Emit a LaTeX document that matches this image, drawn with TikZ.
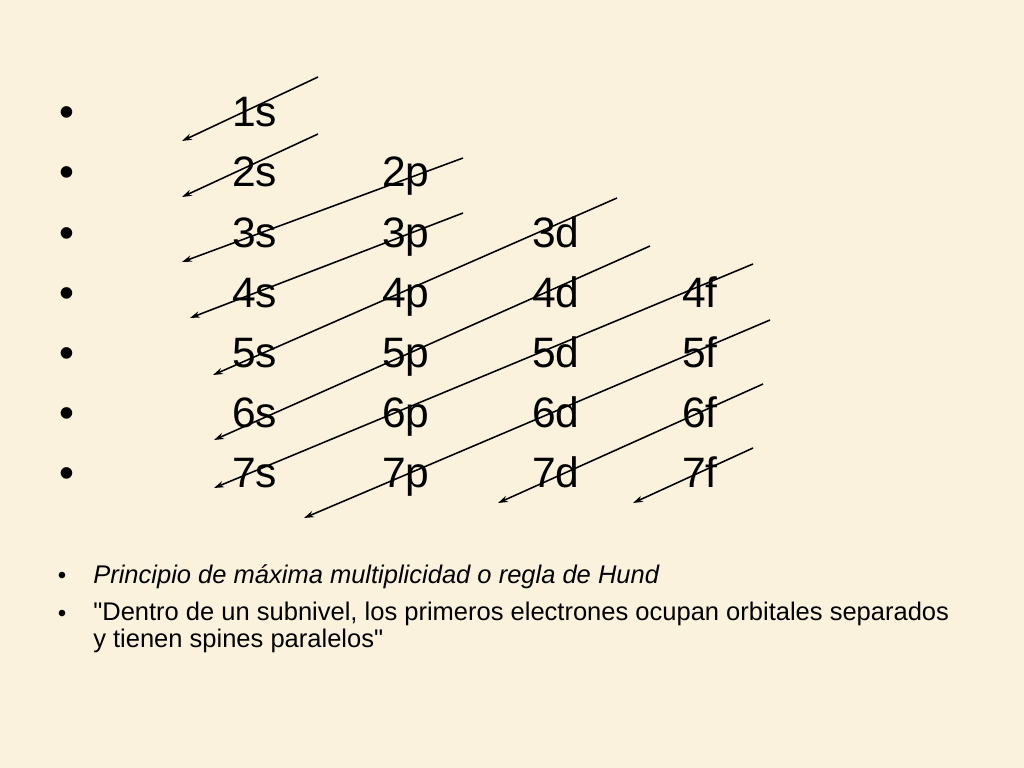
\documentclass[tikz,border=0pt]{standalone}
\usepackage{fontspec}
\setmainfont{Liberation Sans}
\usepackage{xcolor}
\usetikzlibrary{arrows.meta, positioning, calc}

\definecolor{parchment}{RGB}{250,242,221}

\begin{document}
\begin{tikzpicture}[
    x=0.0248cm, y=-0.0248cm,
    % styles
    orbital/.style={
        anchor=base west, inner sep=0pt, font=\fontsize{30}{36}\selectfont
    },
    big_bullet/.style={
        anchor=base, inner sep=0pt, font=\fontsize{30}{36}\selectfont
    },
    small_bullet/.style={
        anchor=base, inner sep=0pt, font=\fontsize{17}{20}\selectfont
    },
    note_text/.style={
        anchor=base west, inner sep=0pt, align=left, font=\fontsize{18}{18.4}\selectfont
    },
    diag_arrow/.style={
        -{Stealth[length=7pt, width=4.5pt]}, line width=1.1pt, black
    }
]

    % --- BACKGROUND ---
    \fill[parchment] (0,0) rectangle (1024,768);
    \useasboundingbox (0,0) rectangle (1024,768);

    % --- ORBITAL TABLE ---
    \foreach \n in {1,...,7} {
        \node[big_bullet] (bul\n) at (67, {67+60*\n}) {•};
        \foreach \l [count=\c from 0] in {s,p,d,f} {
            \pgfmathtruncatemacro\shown{\n>\c}
            \ifnum\shown=1
                \node[orbital] (o\n\l) at ({232+150*\c}, {67+60*\n}) {\n\l};
            \fi
        }
    }

    % --- DIAGONAL ARROWS (filling order) ---
    \foreach \i/\tx/\ty/\hx/\hy in {
        1/318/77/182/141,
        2/318/134/182/197,
        3/463/158/182/262,
        4/463/213/190/318,
        5/617/198/213/375,
        6/650/246/214/440,
        7/753/264/214/488,
        8/770/320/304/518,
        9/763/384/498/503,
        10/753/448/633/503} {
        \coordinate (tail\i) at (\tx,\ty);
        \coordinate (tip\i) at (\hx,\hy);
        \draw[diag_arrow] (tail\i) -- (tip\i);
    }

    % --- HUND'S RULE ---
    \node[small_bullet] (bul_hund) at (62, 583) {•};
    \node[note_text] (hund_title) at (93, 583) {\itshape Principio de máxima multiplicidad o regla de Hund};
    \node[small_bullet] (bul_quote) at (62, 621) {•};
    % multi-line node: base is the last line
    \node[note_text] (hund_quote) at (93, 647) {\textquotedbl Dentro de un subnivel, los primeros electrones ocupan orbitales separados\\y tienen spines paralelos\textquotedbl};

\end{tikzpicture}
\end{document}
